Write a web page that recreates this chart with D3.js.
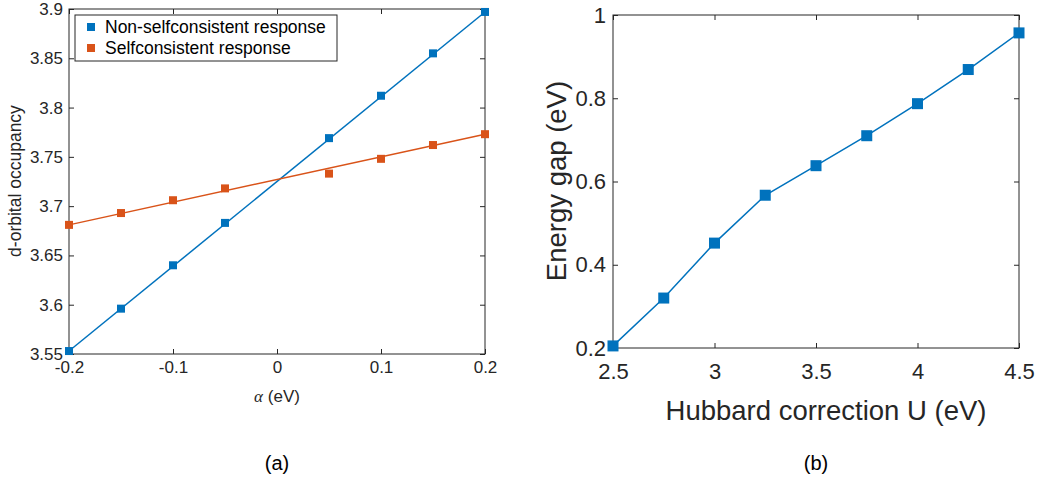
<!DOCTYPE html>
<html><head><meta charset="utf-8">
<script src="https://cdn.jsdelivr.net/npm/d3@7"></script>
<style>body{margin:0;background:#fff}svg{display:block;font-family:"Liberation Sans",Arial,sans-serif}</style>
</head><body><svg id="c" width="1063" height="483"></svg>
<script>
// ---- Data: panel (a)
const alphaVals = [-0.2, -0.15, -0.1, -0.05, 0.05, 0.1, 0.15, 0.2];
const nonSelfOcc = [3.553, 3.596, 3.640, 3.683, 3.769, 3.812, 3.855, 3.897];
const selfOcc = [3.681, 3.693, 3.706, 3.718, 3.733, 3.748, 3.762, 3.773];
const fitAlpha = [-0.2, 0.2];
const nonSelfFit = [3.553, 3.897];
const selfFit = [3.681, 3.773];
const seriesNames = ["Non-selfconsistent response", "Selfconsistent response"];
const aXTicks = [-0.2, -0.1, 0, 0.1, 0.2];
const aYTicks = [3.55, 3.6, 3.65, 3.7, 3.75, 3.8, 3.85, 3.9];
// ---- Data: panel (b)
const hubbardU = [2.5, 2.75, 3, 3.25, 3.5, 3.75, 4, 4.25, 4.5];
const energyGap = [0.205, 0.320, 0.452, 0.567, 0.638, 0.710, 0.787, 0.869, 0.957];
const bXTicks = [2.5, 3, 3.5, 4, 4.5];
const bYTicks = [0.2, 0.4, 0.6, 0.8, 1];

const blue = "#0072BD", orange = "#D95319", axCol = "#262626";
const svg = d3.select("#c");

function panel(o) {
  const g = svg.append("g");
  const x = d3.scaleLinear().domain(o.xDom).range([o.x0, o.x1]);
  const y = d3.scaleLinear().domain(o.yDom).range([o.y1, o.y0]);
  const fmt = d => String(d);
  const style = (sel, fs) => {
    sel.select(".domain").remove();
    sel.selectAll(".tick line").attr("stroke", axCol);
    sel.selectAll(".tick text").attr("fill", axCol).style("font-size", fs + "px").style("font-family", '"Liberation Sans",Arial,sans-serif');
  };
  g.append("g").attr("transform", `translate(0,${o.y1})`)
    .call(d3.axisBottom(x).tickValues(o.xTicks).tickFormat(fmt).tickSizeInner(-o.tick).tickSizeOuter(0).tickPadding(o.xPad))
    .call(s => style(s, o.fs));
  g.append("g").attr("transform", `translate(0,${o.y0})`)
    .call(d3.axisTop(x).tickValues(o.xTicks).tickFormat("").tickSizeInner(-o.tick).tickSizeOuter(0))
    .call(s => style(s, o.fs));
  g.append("g").attr("transform", `translate(${o.x0},0)`)
    .call(d3.axisLeft(y).tickValues(o.yTicks).tickFormat(fmt).tickSizeInner(-o.tick).tickSizeOuter(0).tickPadding(o.yPad))
    .call(s => style(s, o.fs));
  g.append("g").attr("transform", `translate(${o.x1},0)`)
    .call(d3.axisRight(y).tickValues(o.yTicks).tickFormat("").tickSizeInner(-o.tick).tickSizeOuter(0))
    .call(s => style(s, o.fs));
  g.append("rect").attr("x", o.x0).attr("y", o.y0).attr("width", o.x1 - o.x0).attr("height", o.y1 - o.y0)
    .attr("fill", "none").attr("stroke", axCol).attr("stroke-width", 1);
  return {g, x, y};
}

function series(p, xs, ys, fx, fy, col, ms) {
  const line = d3.line().x(d => p.x(d[0])).y(d => p.y(d[1]));
  p.g.append("path").datum(fx.map((v, i) => [v, fy[i]])).attr("d", line)
    .attr("fill", "none").attr("stroke", col).attr("stroke-width", 1.5);
  p.g.selectAll(null).data(xs.map((v, i) => [v, ys[i]])).enter().append("rect")
    .attr("x", d => p.x(d[0]) - ms / 2).attr("y", d => p.y(d[1]) - ms / 2)
    .attr("width", ms).attr("height", ms).attr("fill", col);
}

// ---- Panel (a)
const A = panel({xDom: [-0.2, 0.2], yDom: [3.55, 3.9], x0: 69, x1: 485, y0: 9, y1: 354,
  xTicks: aXTicks, yTicks: aYTicks, tick: 5, fs: 17, xPad: 7, yPad: 6});
series(A, alphaVals, nonSelfOcc, fitAlpha, nonSelfFit, blue, 8);
series(A, alphaVals, selfOcc, fitAlpha, selfFit, orange, 8);
// legend
const lg = A.g.append("g");
lg.append("rect").attr("x", 75).attr("y", 15).attr("width", 262).attr("height", 46)
  .attr("fill", "#fff").attr("stroke", axCol).attr("stroke-width", 1);
[blue, orange].forEach((c, i) => {
  const yy = 27 + i * 21;
  lg.append("rect").attr("x", 87).attr("y", yy - 4).attr("width", 8).attr("height", 8).attr("fill", c);
  lg.append("text").attr("x", 105).attr("y", yy + 6).attr("fill", "#000").style("font-size", "17.5px").text(seriesNames[i]);
});
// axis labels
const aXLab = svg.append("text").attr("x", 277).attr("y", 402).attr("text-anchor", "middle")
  .attr("fill", axCol).style("font-size", "17px");
aXLab.append("tspan").style("font-family", '"Liberation Serif","DejaVu Serif",serif').style("font-style", "italic").text("α");
aXLab.append("tspan").text(" (eV)");
svg.append("text").attr("transform", "translate(21,181) rotate(-90)").attr("text-anchor", "middle")
  .attr("fill", axCol).style("font-size", "17.5px").text("d-orbital occupancy");
svg.append("text").attr("x", 277).attr("y", 470).attr("text-anchor", "middle").attr("fill", "#000")
  .style("font-size", "20px").text("(a)");

// ---- Panel (b)
const B = panel({xDom: [2.5, 4.5], yDom: [0.2, 1], x0: 613, x1: 1019, y0: 15, y1: 348,
  xTicks: bXTicks, yTicks: bYTicks, tick: 5, fs: 22, xPad: 15, yPad: 7});
series(B, hubbardU, energyGap, hubbardU, energyGap, blue, 11);
svg.append("text").attr("x", 826).attr("y", 420).attr("text-anchor", "middle")
  .attr("fill", axCol).style("font-size", "27.5px").text("Hubbard correction U (eV)");
svg.append("text").attr("transform", "translate(566,181) rotate(-90)").attr("text-anchor", "middle")
  .attr("fill", axCol).style("font-size", "27.5px").text("Energy gap (eV)");
svg.append("text").attr("x", 816).attr("y", 470).attr("text-anchor", "middle").attr("fill", "#000")
  .style("font-size", "20px").text("(b)");
</script></body></html>
